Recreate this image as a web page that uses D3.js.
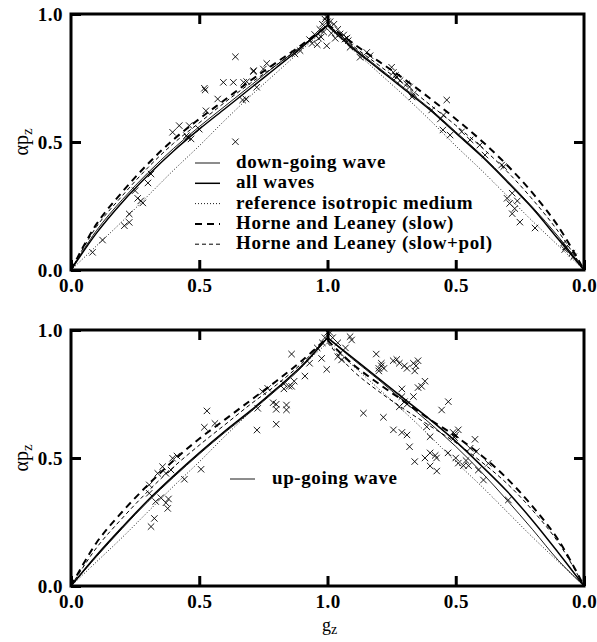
<!DOCTYPE html>
<html><head><meta charset="utf-8">
<script src="https://cdn.jsdelivr.net/npm/d3@7/dist/d3.min.js"></script>
<style>body{margin:0;background:#fff}svg{display:block}text{font-family:"Liberation Serif",serif;font-weight:bold;fill:#000}</style>
</head><body><svg id="c" width="597" height="642"></svg>
<script>
// ---- data ----
const gGrid = [0,0.1,0.2,0.3,0.4,0.5,0.6,0.7,0.8,0.9,1.0];
const xTickLabels = ["0.0","0.5","1.0","0.5","0.0"];
const yTickLabels = ["0.0","0.5","1.0"];
const refIso = [0,0.095,0.19,0.29,0.39,0.485,0.585,0.68,0.77,0.86,0.95];

const topDownLeft  = [0,0.155,0.275,0.38,0.475,0.56,0.64,0.72,0.80,0.875,0.955];
const topAllLeft   = [0,0.145,0.265,0.37,0.465,0.55,0.63,0.71,0.79,0.87,0.955];
const topSlowLeft  = [0,0.18,0.305,0.415,0.51,0.59,0.665,0.74,0.81,0.88,0.955];
const topPolLeft   = [0,0.17,0.29,0.40,0.495,0.575,0.655,0.73,0.80,0.875,0.955];
const topDownRight = [0,0.13,0.245,0.35,0.45,0.54,0.63,0.71,0.79,0.87,0.96];
const topAllRight  = [0,0.12,0.24,0.345,0.445,0.535,0.625,0.705,0.785,0.865,0.955];
const topSlowRight = [0,0.17,0.30,0.41,0.505,0.59,0.67,0.745,0.815,0.885,0.96];
const topPolRight  = [0,0.15,0.275,0.385,0.48,0.565,0.645,0.725,0.80,0.875,0.96];

const botUpLeft    = [0,0.115,0.225,0.33,0.425,0.515,0.60,0.68,0.765,0.855,0.97];
const botAllLeft   = [0,0.12,0.23,0.335,0.43,0.52,0.605,0.685,0.77,0.86,0.97];
const botSlowLeft  = [0,0.17,0.29,0.395,0.49,0.575,0.65,0.725,0.80,0.88,0.97];
const botPolLeft   = [0,0.15,0.265,0.37,0.465,0.55,0.63,0.71,0.785,0.87,0.97];
const botUpRight   = [0,0.10,0.22,0.335,0.445,0.545,0.635,0.72,0.805,0.885,0.97];
const botAllRight  = [0,0.13,0.255,0.37,0.47,0.565,0.65,0.73,0.81,0.89,0.97];
const botSlowRight = [0,0.18,0.31,0.42,0.51,0.585,0.65,0.72,0.79,0.865,0.96];
const botPolRight  = [0,0.17,0.295,0.40,0.485,0.56,0.625,0.69,0.76,0.84,0.95];

// scatter [g, alpha*p_z]
const topPtsLeft = [[0.084,0.069],[0.123,0.117],[0.208,0.173],[0.227,0.186],[0.227,0.219],[0.26,0.28],[0.272,0.27],[0.28,0.262],[0.30,0.34],[0.312,0.375],[0.25,0.31],
 [0.396,0.538],[0.422,0.564],[0.461,0.564],[0.45,0.525],[0.455,0.518],[0.468,0.512],[0.50,0.55],[0.641,0.501],[0.526,0.622],[0.572,0.668],[0.52,0.71],[0.523,0.703],
 [0.594,0.733],[0.633,0.733],[0.673,0.733],[0.641,0.833],[0.712,0.779],[0.669,0.664],[0.682,0.668],[0.685,0.736],[0.724,0.714],[0.711,0.775],[0.763,0.807],[0.75,0.785],
 [0.873,0.844],[0.893,0.857],[0.93,0.90],[0.95,0.92],[0.96,0.88],[0.97,0.94],[0.98,0.96],[0.99,0.98],[0.995,0.99],[0.985,0.93],[0.975,0.91],[0.94,0.885],[0.99,0.95],[1.0,0.97],[0.965,0.905],[0.997,0.876]];
const topPtsRight = [[0.951,0.922],[0.932,0.902],[0.919,0.896],[0.912,0.87],[0.924,0.906],[0.937,0.918],[0.873,0.831],[0.847,0.85],[0.834,0.837],[0.75,0.792],[0.743,0.772],[0.73,0.753],
 [0.717,0.74],[0.735,0.76],[0.691,0.727],[0.665,0.688],[0.67,0.676],[0.68,0.715],[0.594,0.625],[0.535,0.664],[0.548,0.605],[0.56,0.59],[0.522,0.527],[0.55,0.547],[0.477,0.54],
 [0.444,0.508],[0.406,0.488],[0.386,0.449],[0.321,0.41],[0.313,0.404],[0.30,0.28],[0.28,0.30],[0.29,0.26],[0.27,0.24],[0.26,0.27],[0.28,0.22],[0.25,0.187],[0.191,0.164],
 [0.08,0.105],[0.07,0.09],[0.075,0.08],[0.048,0.066],[0.04,0.052],[0.96,0.94],[0.975,0.96],[0.985,0.925],[0.99,0.97],[0.97,0.905]];
const botPtsLeft = [[0.312,0.232],[0.325,0.264],[0.33,0.33],[0.35,0.345],[0.37,0.325],[0.38,0.34],[0.377,0.303],[0.305,0.362],[0.305,0.395],[0.338,0.44],[0.37,0.44],[0.357,0.466],
 [0.39,0.453],[0.396,0.499],[0.413,0.508],[0.442,0.417],[0.507,0.456],[0.52,0.62],[0.53,0.684],[0.561,0.635],[0.725,0.609],[0.728,0.694],[0.747,0.759],[0.767,0.772],[0.788,0.716],
 [0.80,0.71],[0.80,0.69],[0.80,0.632],[0.83,0.77],[0.86,0.78],[0.84,0.707],[0.84,0.688],[0.86,0.906],[0.87,0.80],[0.85,0.78],[0.83,0.79],[0.912,0.82],[0.977,0.889],[0.997,0.846],
 [0.96,0.93],[0.98,0.95],[0.99,0.97],[1.0,0.99],[0.93,0.87]];
const botPtsRight = [[0.912,0.974],[0.906,0.961],[0.96,0.896],[0.945,0.883],[0.81,0.906],[0.79,0.87],[0.80,0.85],[0.80,0.84],[0.744,0.88],[0.73,0.885],[0.72,0.87],[0.70,0.86],
 [0.69,0.85],[0.665,0.87],[0.647,0.88],[0.66,0.84],[0.655,0.86],[0.79,0.86],[0.78,0.85],[0.62,0.80],[0.633,0.78],[0.647,0.775],[0.71,0.77],[0.71,0.74],[0.72,0.70],[0.70,0.72],
 [0.69,0.71],[0.665,0.74],[0.86,0.675],[0.782,0.659],[0.743,0.61],[0.71,0.60],[0.69,0.59],[0.68,0.544],[0.66,0.486],[0.62,0.50],[0.60,0.52],[0.58,0.51],[0.575,0.50],[0.60,0.469],
 [0.574,0.449],[0.529,0.72],[0.555,0.6875],[0.613,0.622],[0.60,0.583],[0.53,0.52],[0.50,0.50],[0.49,0.48],[0.47,0.47],[0.45,0.47],[0.46,0.49],[0.51,0.60],[0.50,0.59],[0.49,0.61],
 [0.505,0.58],[0.425,0.573],[0.444,0.538],[0.42,0.525],[0.412,0.453],[0.392,0.414],[0.373,0.479],[0.295,0.336],[0.93,0.93],[0.96,0.95],[0.98,0.97],[0.99,0.99],[0.95,0.91]];

const topLegend = ["down-going wave","all waves","reference isotropic medium","Horne and Leaney (slow)","Horne and Leaney (slow+pol)"];
const botLegend = ["up-going wave"];

// ---- styles ----
const styles = {
  one:  {w:0.9, dash:null},
  all:  {w:1.5, dash:null},
  ref:  {w:0.9, dash:"1,2"},
  slow: {w:2.0, dash:"7,5"},
  pol:  {w:1.0, dash:"4,3"}
};
const FONT = "Liberation Serif";

const svg = d3.select("#c");
const X0 = 71, X1 = 584;
const x = d3.scaleLinear().domain([0,2]).range([X0,X1]);

function panel(top, bottom, curves, ptsL, ptsR) {
  const y = d3.scaleLinear().domain([0,1]).range([bottom, top]);
  const g = svg.append("g");
  const line = d3.line().x(d=>x(d[0])).y(d=>y(d[1])).curve(d3.curveCatmullRom.alpha(0.5));
  curves.forEach(c => {
    const st = styles[c.s];
    const left = gGrid.map((gv,i)=>[gv, c.L[i]]);
    const right = gGrid.map((gv,i)=>[2-gv, c.R[i]]).reverse();
    [left,right].forEach(dat => {
      g.append("path").attr("d", line(dat)).attr("fill","none").attr("stroke","#000")
        .attr("stroke-width", st.w).attr("stroke-dasharray", st.dash);
    });
  });
  const cross = "M-3.2,-3.2L3.2,3.2M-3.2,3.2L3.2,-3.2";
  const pts = ptsL.map(p=>[p[0],p[1]]).concat(ptsR.map(p=>[2-p[0],p[1]]));
  g.selectAll(null).data(pts).enter().append("path")
    .attr("d", cross).attr("transform", d=>`translate(${x(d[0])},${y(d[1])})`)
    .attr("stroke","#000").attr("stroke-width",0.9).attr("fill","none");

  g.append("rect").attr("x",X0).attr("y",top).attr("width",X1-X0).attr("height",bottom-top)
    .attr("fill","none").attr("stroke","#000").attr("stroke-width",3);
  const xAxB = d3.axisBottom(x).tickValues([0,0.5,1,1.5,2]).tickSize(-10).tickFormat((d,i)=>xTickLabels[i]).tickPadding(9);
  const xb = g.append("g").attr("transform",`translate(0,${bottom})`).call(xAxB);
  const xAxT = d3.axisTop(x).tickValues([0.5,1,1.5]).tickSize(-10).tickFormat("");
  const xt = g.append("g").attr("transform",`translate(0,${top})`).call(xAxT);
  const yAxL = d3.axisLeft(y).tickValues([0,0.5,1]).tickSize(-10).tickFormat((d,i)=>yTickLabels[i]).tickPadding(8);
  const yl = g.append("g").attr("transform",`translate(${X0},0)`).call(yAxL);
  const yAxR = d3.axisRight(y).tickValues([0.5]).tickSize(-10).tickFormat("");
  const yr = g.append("g").attr("transform",`translate(${X1},0)`).call(yAxR);
  [xb,xt,yl,yr].forEach(a=>{
    a.select(".domain").remove();
    a.selectAll("line").attr("stroke","#000").attr("stroke-width",3);
    a.selectAll("text").style("font-family",FONT).style("font-weight","bold").style("font-size","19px")
      .style("letter-spacing","0.5px").attr("fill","#000");
  });
  yl.selectAll("text").attr("dy","0.34em");
  const yt = g.append("text").attr("transform",`translate(28,${(top+bottom)/2}) rotate(-90)`)
    .attr("text-anchor","middle").style("font-size","20px").style("font-weight","normal");
  yt.append("tspan").text("αp");
  yt.append("tspan").attr("dy",4).style("font-size","15px").text("z");
  return {g,y};
}

panel(14, 270, [
  {s:"ref", L:refIso, R:refIso},
  {s:"pol", L:topPolLeft, R:topPolRight},
  {s:"slow", L:topSlowLeft, R:topSlowRight},
  {s:"all", L:topAllLeft, R:topAllRight},
  {s:"one", L:topDownLeft, R:topDownRight}
], topPtsLeft, topPtsRight);

panel(330, 586, [
  {s:"ref", L:refIso, R:refIso},
  {s:"pol", L:botPolLeft, R:botPolRight},
  {s:"slow", L:botSlowLeft, R:botSlowRight},
  {s:"all", L:botAllLeft, R:botAllRight},
  {s:"one", L:botUpLeft, R:botUpRight}
], botPtsLeft, botPtsRight);

const legKeys = ["one","all","ref","slow","pol"];
topLegend.forEach((t,i)=>{
  const by = 168 + i*20.3;
  const st = styles[legKeys[i]];
  svg.append("line").attr("x1",195).attr("x2",220).attr("y1",by-5).attr("y2",by-5)
    .attr("stroke","#000").attr("stroke-width",st.w).attr("stroke-dasharray",st.dash);
  svg.append("text").attr("x",236).attr("y",by).style("font-size","19px").style("letter-spacing","0.6px").text(t);
});
botLegend.forEach((t)=>{
  const by = 484;
  svg.append("line").attr("x1",230).attr("x2",255).attr("y1",by-5).attr("y2",by-5)
    .attr("stroke","#000").attr("stroke-width",styles.one.w);
  svg.append("text").attr("x",272).attr("y",by).style("font-size","19px").style("letter-spacing","0.6px").text(t);
});

const xt = svg.append("text").attr("x",x(1)+2).attr("y",631).attr("text-anchor","middle")
  .style("font-size","18px").style("font-weight","normal");
xt.append("tspan").text("g");
xt.append("tspan").attr("dy",3).style("font-size","14px").text("z");
</script></body></html>
